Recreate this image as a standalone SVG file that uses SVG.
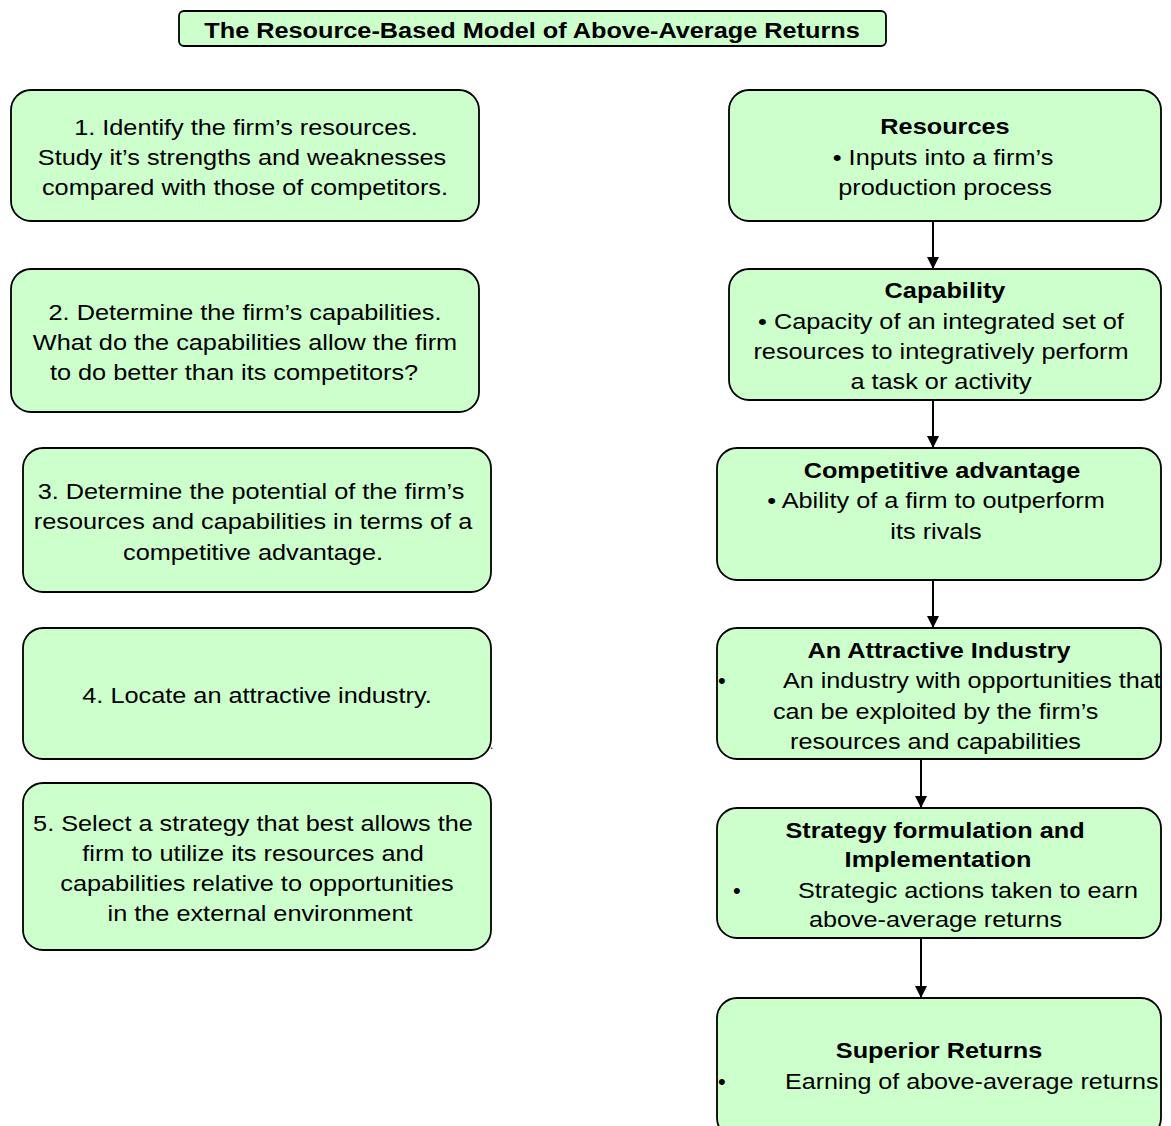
<svg xmlns="http://www.w3.org/2000/svg" width="1171" height="1126" viewBox="0 0 1171 1126">
<style>
.box{fill:#ccffcc;stroke:#000;stroke-width:1.8}
.t{font-family:"Liberation Sans",Arial,sans-serif;font-size:22px;fill:#000;text-anchor:middle}
.b{font-weight:bold}
.l{text-anchor:start}
.c{stroke:#000;stroke-width:2;fill:none}
</style>
<defs>
<marker id="ah" markerWidth="12" markerHeight="12" refX="12" refY="6" orient="auto" markerUnits="userSpaceOnUse">
<path d="M0,0 L12,6 L0,12 Z" fill="#000"/>
</marker>
</defs>
<rect width="1171" height="1126" fill="#fff"/>
<g id="title">
<rect class="box" x="179" y="11" width="707" height="35" rx="5"/>
<text class="t b" transform="matrix(1.15 0 0 1 532 0)" x="0" y="38">The Resource-Based Model of Above-Average Returns</text>
</g>
<g id="step1">
<rect class="box" x="11" y="90" width="468" height="131" rx="20"/>
<text class="t" transform="matrix(1.15 0 0 1 246 0)" x="0" y="135">1. Identify the firm’s resources.</text>
<text class="t" transform="matrix(1.15 0 0 1 242 0)" x="0" y="165">Study it’s strengths and weaknesses</text>
<text class="t" transform="matrix(1.15 0 0 1 245 0)" x="0" y="195">compared with those of competitors.</text>
</g>
<g id="step2">
<rect class="box" x="11" y="269" width="468" height="143" rx="20"/>
<text class="t" transform="matrix(1.15 0 0 1 245 0)" x="0" y="320">2. Determine the firm’s capabilities.</text>
<text class="t" transform="matrix(1.15 0 0 1 245 0)" x="0" y="350">What do the capabilities allow the firm</text>
<text class="t" transform="matrix(1.15 0 0 1 234 0)" x="0" y="380">to do better than its competitors?</text>
</g>
<g id="step3">
<rect class="box" x="23" y="448" width="468" height="144" rx="20"/>
<text class="t" transform="matrix(1.15 0 0 1 251 0)" x="0" y="499">3. Determine the potential of the firm’s</text>
<text class="t" transform="matrix(1.15 0 0 1 253 0)" x="0" y="529">resources and capabilities in terms of a</text>
<text class="t" transform="matrix(1.15 0 0 1 253 0)" x="0" y="560">competitive advantage.</text>
</g>
<g id="step4">
<rect class="box" x="23" y="628" width="468" height="131" rx="20"/>
<text class="t" transform="matrix(1.15 0 0 1 257 0)" x="0" y="703">4. Locate an attractive industry.</text>
<text class="t l" x="490" y="749" style="font-size:12px">.</text>
</g>
<g id="step5">
<rect class="box" x="23" y="783" width="468" height="167" rx="20"/>
<text class="t" transform="matrix(1.15 0 0 1 253 0)" x="0" y="831">5. Select a strategy that best allows the</text>
<text class="t" transform="matrix(1.15 0 0 1 253 0)" x="0" y="861">firm to utilize its resources and</text>
<text class="t" transform="matrix(1.15 0 0 1 257 0)" x="0" y="891">capabilities relative to opportunities</text>
<text class="t" transform="matrix(1.15 0 0 1 260 0)" x="0" y="921">in the external environment</text>
</g>
<g id="resources">
<rect class="box" x="729" y="90" width="432" height="131" rx="20"/>
<text class="t b" transform="matrix(1.15 0 0 1 945 0)" x="0" y="134">Resources</text>
<text class="t" transform="matrix(1.15 0 0 1 943 0)" x="0" y="165">• Inputs into a firm’s</text>
<text class="t" transform="matrix(1.15 0 0 1 945 0)" x="0" y="195">production process</text>
</g>
<g id="capability">
<rect class="box" x="729" y="269" width="432" height="131" rx="20"/>
<text class="t b" transform="matrix(1.15 0 0 1 945 0)" x="0" y="298">Capability</text>
<text class="t" transform="matrix(1.15 0 0 1 941 0)" x="0" y="329">• Capacity of an integrated set of</text>
<text class="t" transform="matrix(1.15 0 0 1 941 0)" x="0" y="359">resources to integratively perform</text>
<text class="t" transform="matrix(1.15 0 0 1 941 0)" x="0" y="389">a task or activity</text>
</g>
<g id="advantage">
<rect class="box" x="717" y="448" width="444" height="132" rx="20"/>
<text class="t b" transform="matrix(1.15 0 0 1 942 0)" x="0" y="478">Competitive advantage</text>
<text class="t" transform="matrix(1.15 0 0 1 936 0)" x="0" y="508">• Ability of a firm to outperform</text>
<text class="t" transform="matrix(1.15 0 0 1 936 0)" x="0" y="539">its rivals</text>
</g>
<g id="industry">
<rect class="box" x="717" y="628" width="444" height="131" rx="20"/>
<text class="t b" transform="matrix(1.15 0 0 1 939 0)" x="0" y="658">An Attractive Industry</text>
<text class="t l" x="718" y="688">•</text>
<text class="t l" transform="matrix(1.145 0 0 1 783 0)" x="0" y="688">An industry with opportunities that</text>
<text class="t l" transform="matrix(1.145 0 0 1 773 0)" x="0" y="719">can be exploited by the firm’s</text>
<text class="t l" transform="matrix(1.145 0 0 1 790 0)" x="0" y="749">resources and capabilities</text>
</g>
<g id="strategy">
<rect class="box" x="717" y="808" width="444" height="130" rx="20"/>
<text class="t b" transform="matrix(1.15 0 0 1 935 0)" x="0" y="838">Strategy formulation and</text>
<text class="t b" transform="matrix(1.15 0 0 1 938 0)" x="0" y="867">Implementation</text>
<text class="t l" x="733" y="898">•</text>
<text class="t l" transform="matrix(1.145 0 0 1 798 0)" x="0" y="898">Strategic actions taken to earn</text>
<text class="t l" transform="matrix(1.145 0 0 1 809 0)" x="0" y="927">above-average returns</text>
</g>
<g id="returns">
<rect class="box" x="717" y="998" width="444" height="140" rx="20"/>
<text class="t b" transform="matrix(1.15 0 0 1 939 0)" x="0" y="1058">Superior Returns</text>
<text class="t l" x="718" y="1089">•</text>
<text class="t l" transform="matrix(1.14 0 0 1 785 0)" x="0" y="1089">Earning of above-average returns</text>
</g>
<g id="connectors">
<line class="c" x1="933" y1="221" x2="933" y2="269" marker-end="url(#ah)"/>
<line class="c" x1="933" y1="400" x2="933" y2="448" marker-end="url(#ah)"/>
<line class="c" x1="933" y1="580" x2="933" y2="628" marker-end="url(#ah)"/>
<line class="c" x1="921" y1="759" x2="921" y2="808" marker-end="url(#ah)"/>
<line class="c" x1="921" y1="938" x2="921" y2="998" marker-end="url(#ah)"/>
</g>
</svg>
